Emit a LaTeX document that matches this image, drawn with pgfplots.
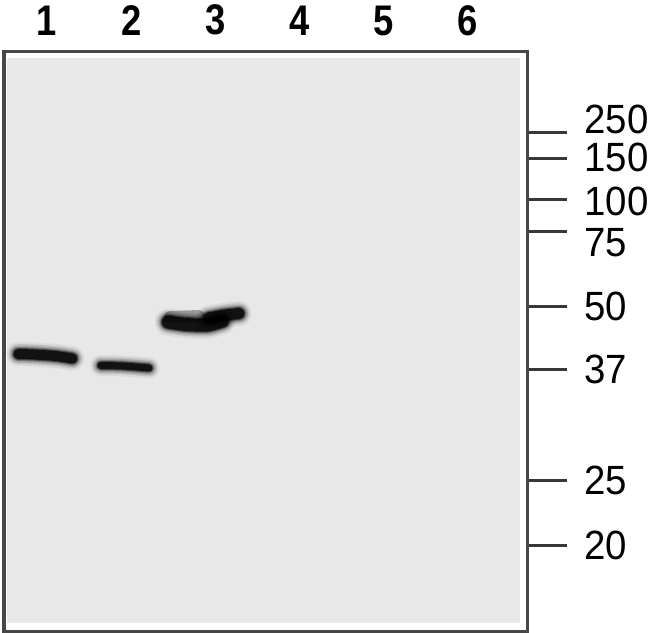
\documentclass[border=0pt]{standalone}
\usepackage{pgfplots}
\pgfplotsset{compat=1.18}
\usepackage{fontspec}
\setmainfont{Liberation Sans}

\pgfplotsset{
  band/.style={black, line cap=round, line join=round, smooth, mark=none},
}
% one band: the same line stroked several times, wide and faint to narrow and dark
\newcommand{\band}[2]{%
  \addplot[band, line width=#1bp+14bp, opacity=0.06] coordinates {#2};
  \addplot[band, line width=#1bp+10bp, opacity=0.10] coordinates {#2};
  \addplot[band, line width=#1bp+7bp, opacity=0.15] coordinates {#2};
  \addplot[band, line width=#1bp+4bp, opacity=0.25] coordinates {#2};
  \addplot[band, line width=#1bp+2bp, opacity=0.40] coordinates {#2};
  \addplot[band, line width=#1bp, opacity=0.75] coordinates {#2};
}

\begin{document}
\begin{tikzpicture}
\useasboundingbox (-4bp,-2bp) rectangle (646bp,631bp);
\begin{axis}[
  scale only axis,
  width=523bp, height=579bp,
  at={(0,0)}, anchor=south west,
  xmin=0.489, xmax=6.70,
  ymin=52, ymax=631,
  y dir=reverse,
  axis line style={draw=black!72, line width=3bp},
  xtick={1,2,3,4,5,6},
  xticklabels={1,2,3,4,5,6},
  xtick pos=top,
  xticklabel pos=top,
  xtick style={draw=none},
  xticklabel style={font=\fontsize{43}{43}\selectfont\bfseries, xscale=0.85, yshift=-27bp},
  ytick={133,159,199,231,306,369,480,545},
  yticklabels={\raisebox{14bp}{250},\raisebox{2bp}{150},\raisebox{-2bp}{100},\raisebox{-11bp}{75},50,37,25,20},
  ytick pos=right,
  yticklabel pos=right,
  tick align=outside,
  major tick length=40bp,
  every major tick/.append style={draw=black!78, line width=3bp},
  yticklabel style={font=\fontsize{41}{41}\selectfont, xscale=0.94, anchor=base west, xshift=15bp, yshift=-14.7bp},
  clip=true,
]

% membrane field inside the white margin
\addplot[draw=none, fill=black!9] coordinates {(0.525,58) (6.618,58) (6.618,623) (0.525,623)} -- cycle;

% lane 1
\band{10}{(0.66,354) (0.85,354.5) (1.1,356) (1.30,358.5)}
% lane 2
\band{7}{(1.64,365.5) (1.9,366) (2.21,368)}
% lane 3, lower stripe and upper right part
\band{13}{(2.44,322) (2.65,324.5) (2.90,325) (3.08,321)}
\band{11}{(2.92,318) (3.12,315) (3.28,313.5)}
\addplot[band, line width=12bp, opacity=0.3] coordinates {(2.46,317) (2.8,316)};

\end{axis}
\end{tikzpicture}
\end{document}
